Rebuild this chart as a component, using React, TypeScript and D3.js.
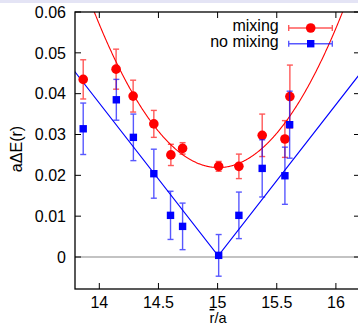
import React from "react";
import * as d3 from "d3";

const W = 358;
const H = 327;

// Lattice separations (r̄/a) and energy differences with errors
const mixX = [13.864, 14.142, 14.286, 14.461, 14.605, 14.704, 15.009, 15.18, 15.377, 15.569, 15.611];
const mixY = [0.0435, 0.046, 0.0394, 0.0326, 0.025, 0.0266, 0.0222, 0.0222, 0.0298, 0.0289, 0.0393];
const mixErr = [0.0048, 0.0049, 0.0039, 0.0033, 0.0026, 0.0014, 0.0012, 0.003, 0.0052, 0.0045, 0.0077];

const noMixX = [13.864, 14.144, 14.288, 14.461, 14.602, 14.704, 15.009, 15.18, 15.377, 15.569, 15.609];
const noMixY = [0.0314, 0.0385, 0.0293, 0.0204, 0.0102, 0.0075, 0.0004, 0.0102, 0.0217, 0.0199, 0.0324];
const noMixErr = [0.0063, 0.005, 0.0057, 0.006, 0.0059, 0.0057, 0.0051, 0.0057, 0.007, 0.007, 0.0082];

// Fit parameters: parabola for mixing, |x - x0| cusp for no mixing
const mixFit = { x0: 15.007, c: 0.0219, k: 0.0346 };
const noMixFit = { x0: 15.005, c: 0.0003, a: 0.0372 };

const xTicks = [14, 14.5, 15, 15.5, 16];
const yTicks = [0, 0.01, 0.02, 0.03, 0.04, 0.05, 0.06];

const left = 75;
const top = 12;
const bottom = 289;
const right = 360;

const FONT = "'Liberation Sans', Arial, Helvetica, sans-serif";

export default function App() {
  const x = d3.scaleLinear().domain([14, 16]).range([99.3, 335.9]);
  const y = d3.scaleLinear().domain([0, 0.06]).range([257, 12]);

  const xs = d3.range(13.7, 16.3, 0.005);
  const mixLine = d3
    .line<number>()
    .x((v) => x(v))
    .y((v) => y(mixFit.c + mixFit.k * (v - mixFit.x0) ** 2))(xs);
  const noMixLine = d3
    .line<number>()
    .x((v) => x(v))
    .y((v) => y(noMixFit.c + noMixFit.a * Math.abs(v - noMixFit.x0)))(
    [13.6, noMixFit.x0, 16.4]
  );

  const cap = 3;
  const errBars = (X: number[], Y: number[], E: number[], color: string) =>
    X.map((xv, i) => {
      const px = x(xv);
      const y1 = y(Y[i] + E[i]);
      const y2 = y(Y[i] - E[i]);
      return (
        <g key={i} stroke={color} strokeWidth={1.4} opacity={0.65}>
          <line x1={px} x2={px} y1={y1} y2={y2} />
          <line x1={px - cap} x2={px + cap} y1={y1} y2={y1} />
          <line x1={px - cap} x2={px + cap} y1={y2} y2={y2} />
        </g>
      );
    });

  const sq = 7.4;

  return (
    <svg
      width={W}
      height={H}
      style={{ position: "absolute", left: 0, top: 0 }}
      fontFamily={FONT}
    >
      <rect x={0} y={0} width={W} height={H} fill="#fff" />
      <rect x={0} y={0} width={W} height={3} fill="#e4e4f5" />
      <defs>
        <clipPath id="plot">
          <rect x={left} y={top} width={right - left} height={bottom - top} />
        </clipPath>
      </defs>

      {/* zero line */}
      <line x1={left} x2={right} y1={y(0)} y2={y(0)} stroke="#888" strokeWidth={1.2} />

      {/* ticks */}
      {xTicks.map((t) => (
        <g key={"xt" + t} stroke="#000" strokeWidth={1}>
          <line x1={x(t)} x2={x(t)} y1={bottom} y2={bottom - 6} />
          <line x1={x(t)} x2={x(t)} y1={top} y2={top + 6} />
        </g>
      ))}
      {yTicks.map((t) => (
        <g key={"yt" + t} stroke="#000" strokeWidth={1}>
          <line x1={left} x2={left + 6} y1={y(t)} y2={y(t)} />
          <line x1={right} x2={right - 6} y1={y(t)} y2={y(t)} />
        </g>
      ))}

      {/* fit curves */}
      <g clipPath="url(#plot)" fill="none" strokeWidth={1.1}>
        <path d={mixLine ?? ""} stroke="#ff0000" />
        <path d={noMixLine ?? ""} stroke="#0000ff" />
      </g>

      {/* mixing data */}
      {errBars(mixX, mixY, mixErr, "#ff0000")}
      {mixX.map((xv, i) => (
        <circle key={"mc" + i} cx={x(xv)} cy={y(mixY[i])} r={4.8} fill="#ff0000" />
      ))}

      {/* no-mixing data */}
      {errBars(noMixX, noMixY, noMixErr, "#0000ff")}
      {noMixX.map((xv, i) => (
        <rect
          key={"nr" + i}
          x={x(xv) - sq / 2}
          y={y(noMixY[i]) - sq / 2}
          width={sq}
          height={sq}
          fill="#0000ff"
        />
      ))}

      {/* frame */}
      <rect
        x={left}
        y={top}
        width={right - left}
        height={bottom - top}
        fill="none"
        stroke="#000"
        strokeWidth={1.3}
      />

      {/* tick labels */}
      {yTicks.map((t) => (
        <text
          key={"yl" + t}
          x={66}
          y={y(t)}
          dy="0.36em"
          textAnchor="end"
          fontSize={16}
          fill="#000"
        >
          {t === 0 ? "0" : d3.format(".2f")(t)}
        </text>
      ))}
      {xTicks.map((t) => (
        <text key={"xl" + t} x={x(t)} y={308} textAnchor="middle" fontSize={16} fill="#000">
          {String(t)}
        </text>
      ))}

      {/* axis titles */}
      <text x={218} y={323} textAnchor="middle" fontSize={14.5} fill="#000">
        <tspan style={{ textDecoration: "overline" }}>r</tspan>/a
      </text>
      <text
        transform="translate(22,149) rotate(-90)"
        textAnchor="middle"
        fontSize={16}
        fill="#000"
      >
        aΔE(r)
      </text>

      {/* legend */}
      <g fontSize={16} fill="#000">
        <text x={278.7} y={31} textAnchor="end">mixing</text>
        <text x={278.7} y={47} textAnchor="end">no mixing</text>
      </g>
      <g stroke="#ff0000" strokeWidth={1.4} opacity={0.65}>
        <line x1={288.7} x2={332.3} y1={28} y2={28} />
        <line x1={288.7} x2={288.7} y1={25} y2={31} />
        <line x1={332.3} x2={332.3} y1={25} y2={31} />
      </g>
      <circle cx={310.7} cy={28} r={4.8} fill="#ff0000" />
      <g stroke="#0000ff" strokeWidth={1.4} opacity={0.65}>
        <line x1={288.7} x2={332.3} y1={43.7} y2={43.7} />
        <line x1={288.7} x2={288.7} y1={40.7} y2={46.7} />
        <line x1={332.3} x2={332.3} y1={40.7} y2={46.7} />
      </g>
      <rect x={310.7 - sq / 2} y={43.7 - sq / 2} width={sq} height={sq} fill="#0000ff" />
    </svg>
  );
}
